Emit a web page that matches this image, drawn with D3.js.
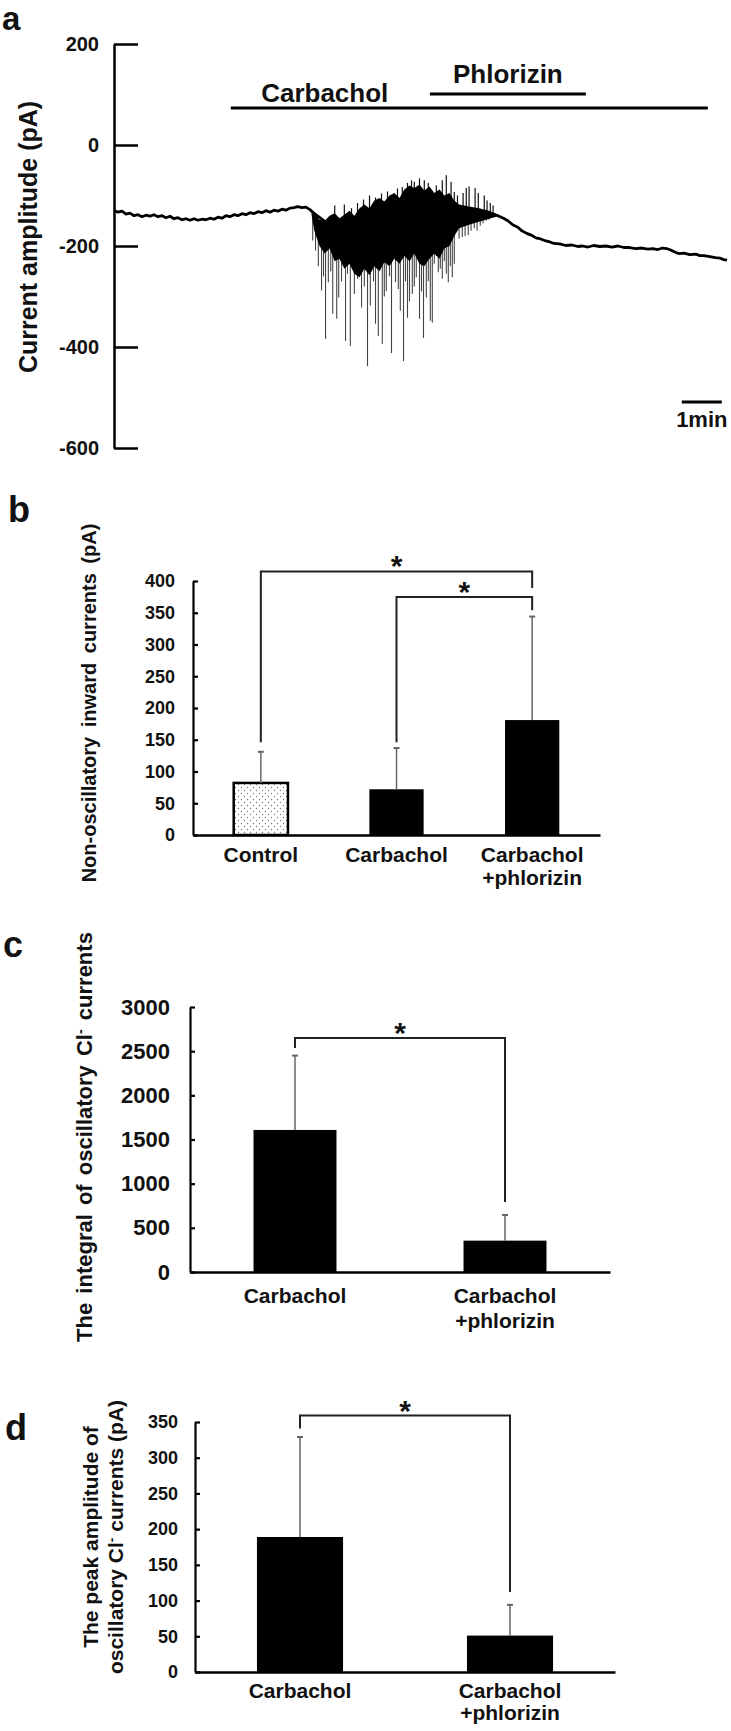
<!DOCTYPE html>
<html>
<head>
<meta charset="utf-8">
<script src="https://cdn.jsdelivr.net/npm/d3@7"></script>
<style>
  body { margin: 0; background: #fff; }
  svg { display: block; font-family: "Liberation Sans", Arial, sans-serif; }
  text { font-weight: bold; fill: #111; }
  .axis path, .axis line { stroke: #000; }
</style>
</head>
<body>
<svg width="731" height="1731"></svg>
<script>
// ---- panel a : current trace (time in min, current in pA)
const traceT = [0, 0.1, 0.2, 0.3, 0.4, 0.5, 0.6, 0.7, 0.8, 0.9, 1.0, 1.1, 1.2, 1.3, 1.4, 1.5, 1.6, 1.7,
  1.8, 1.9, 2.0, 2.1, 2.2, 2.3, 2.4, 2.5, 2.6, 2.7, 2.8, 2.9, 3.0, 3.1, 3.2, 3.3, 3.4, 3.5, 3.6,
  3.7, 3.8, 3.9, 4.0, 4.1, 4.2, 4.3, 4.4, 4.5, 4.6, 4.7, 4.8, 4.9, 5.0,
  5.5, 6.0, 6.5, 7.0, 7.5, 8.0, 8.5, 9.0, 9.5, 9.6, 9.74, 9.85, 9.97, 10.1, 10.2, 10.32, 10.45,
  10.55, 10.67, 10.8, 10.9, 11.0, 11.14, 11.3, 11.45, 11.6, 11.72, 11.85, 12.0, 12.15, 12.3, 12.45,
  12.6, 12.75, 12.89, 13.05, 13.2, 13.35, 13.47, 13.6, 13.72, 13.82, 13.92, 14.05, 14.15, 14.25,
  14.4, 14.55, 14.65, 14.75, 14.9, 15.04, 15.15, 15.25, 15.33];
const traceV = [-130, -133, -131, -137, -135, -140, -138, -142, -139, -141, -138, -142, -140, -144, -141, -146, -144, -148,
  -146, -149, -146, -149, -147, -148, -145, -147, -143, -145, -140, -142, -138, -140, -136, -138, -134, -136, -132,
  -134, -130, -133, -129, -131, -127, -129, -125, -124, -122, -124, -123, -128, -135,
  -165, -175, -170, -160, -150, -150, -140, -135, -138, -140, -145, -150, -158, -163, -170, -175, -179,
  -184, -186, -190, -192, -195, -196, -199, -198, -201, -200, -202, -199, -201, -200, -202,
  -200, -203, -203, -205, -204, -206, -205, -207, -204, -205, -208, -213, -215, -214,
  -217, -216, -219, -219, -221, -223, -224, -227, -228];

// dense oscillation band (upper and lower edge of the black region)
const bandT  = [4.94, 5.01, 5.14, 5.27, 5.39, 5.52, 5.64, 5.76, 5.89, 6.01, 6.14, 6.26, 6.39, 6.51, 6.64,
  6.76, 6.89, 7.01, 7.14, 7.26, 7.39, 7.51, 7.64, 7.76, 7.89, 8.01, 8.14, 8.26, 8.39, 8.51, 8.63,
  8.88, 9.13, 9.38, 9.56];
const bandHi = [-128, -135, -148, -150, -140, -135, -145, -138, -130, -140, -125, -118, -125, -110, -105,
  -112, -100, -95, -105, -88, -80, -85, -78, -90, -82, -95, -88, -100, -95, -110, -118,
  -122, -125, -130, -136];
const bandLo = [-138, -170, -200, -215, -205, -230, -225, -245, -235, -255, -262, -245, -258, -240, -250,
  -232, -240, -225, -235, -220, -230, -215, -235, -240, -225, -215, -225, -205, -200, -180, -165,
  -158, -152, -146, -142];

// downward spikes
const downT = [4.97, 5.04, 5.11, 5.19, 5.24, 5.29, 5.36, 5.42, 5.47, 5.57, 5.62, 5.69, 5.79, 5.84, 5.91,
  6.01, 6.09, 6.19, 6.26, 6.34, 6.41, 6.49, 6.54, 6.61, 6.71, 6.76, 6.81, 6.89, 6.94, 7.04, 7.11,
  7.16, 7.24, 7.29, 7.34, 7.39, 7.46, 7.51, 7.56, 7.64, 7.69, 7.74, 7.81, 7.86, 7.91, 7.96, 8.01,
  8.06, 8.11, 8.16, 8.21, 8.26, 8.31, 8.36, 8.41, 8.46, 8.51, 8.63, 8.71, 8.78, 8.86, 8.93, 9.01,
  9.08, 9.16, 9.23, 9.31, 9.38, 9.46];
const downV = [-189, -209, -240, -288, -260, -384, -272, -250, -334, -344, -302, -270, -388, -255, -398,
  -295, -265, -322, -280, -438, -318, -270, -354, -378, -394, -300, -289, -260, -412, -272, -285,
  -328, -428, -270, -342, -310, -295, -280, -262, -344, -290, -382, -302, -270, -348, -352, -235,
  -220, -252, -245, -265, -230, -255, -272, -240, -262, -235, -185, -182, -180, -178, -170, -165,
  -170, -160, -155, -150, -148, -140];

// upward spikes
const upT = [5.52, 5.76, 5.94, 6.09, 6.24, 6.39, 6.54, 6.69, 6.84, 6.99, 7.09, 7.21, 7.34, 7.44, 7.51,
  7.64, 7.76, 7.86, 7.94, 8.06, 8.21, 8.31, 8.43, 8.51, 8.59, 8.73, 8.81, 8.88, 9.03, 9.11, 9.26,
  9.33, 9.41, 9.48];
const upV = [-120, -118, -125, -115, -108, -100, -104, -96, -92, -98, -86, -83, -75, -70, -73,
  -66, -70, -75, -90, -80, -70, -60, -73, -93, -100, -95, -85, -82, -85, -95, -100,
  -110, -115, -120];

const ticksA = [200, 0, -200, -400, -600];
const carbacholOn = [2.92, 14.85];
const phlorizinOn = [7.9, 11.8];
const scaleBarT = [14.2, 15.2];

// ---- panel b
const catsB = ["Control", "Carbachol", "Carbachol\n+phlorizin"];
const meanB = [82, 72, 181];
const sdB = [49, 65, 163];
const sigB = [[0, 2, 415, 146, 389], [1, 2, 375, 146, 354]];   // from, to, level, left foot, right foot

// ---- panel c
const catsC = ["Carbachol", "Carbachol\n+phlorizin"];
const meanC = [1608, 355];
const sdC = [842, 290];
const sigC = [[0, 1, 2650, 2537, 793]];

// ---- panel d
const catsD = ["Carbachol", "Carbachol\n+phlorizin"];
const meanD = [189, 51];
const sdD = [140, 43];
const sigD = [[0, 1, 359, 341, 112]];

const svg = d3.select("svg");
svg.append("rect").attr("width", 731).attr("height", 1731).attr("fill", "#fff");

const defs = svg.append("defs");
const pat = defs.append("pattern").attr("id", "dots")
    .attr("width", 6).attr("height", 6).attr("patternUnits", "userSpaceOnUse");
pat.append("rect").attr("width", 6).attr("height", 6).attr("fill", "#fff");
pat.append("circle").attr("cx", 1.5).attr("cy", 1.5).attr("r", 0.7).attr("fill", "#777");
pat.append("circle").attr("cx", 4.5).attr("cy", 4.5).attr("r", 0.7).attr("fill", "#777");

function richText(sel, str) {
  // "^x" makes x a superscript
  str.split(/\^(.)/).forEach(function(part, i) {
    if (i % 2 === 1) {
      sel.append("tspan").attr("dy", -7).style("font-size", "0.65em").text(part);
    } else if (part.length) {
      sel.append("tspan").attr("dy", i > 0 ? 7 : 0).text(part);
    }
  });
}

function panelLabel(s, x, y, size) {
  svg.append("text").attr("x", x).attr("y", y).style("font-size", (size || 36) + "px").text(s);
}

// ================= panel a =================
const xA = d3.scaleLinear().domain([0, 15.33]).range([114, 727]);
const yA = d3.scaleLinear().domain([-600, 200]).range([448, 44]);
const gA = svg.append("g");

gA.append("g")
    .attr("class", "axis")
    .attr("transform", "translate(" + xA(0) + ",0)")
    .call(d3.axisLeft(yA).tickValues(ticksA).tickSizeInner(-24).tickSizeOuter(0).tickPadding(15)
      .tickFormat(function(d) { return String(d); }))
    .call(function(g) {
      g.selectAll("path, line").attr("stroke-width", 2.5);
      g.selectAll("text").style("font-size", "20px");
    });

const baseLine = d3.line()
    .x(function(d) { return xA(d[0]); })
    .y(function(d) { return yA(d[1]); });

gA.append("path")
    .datum(d3.zip(traceT, traceV))
    .attr("d", baseLine)
    .attr("fill", "none").attr("stroke", "#000").attr("stroke-width", 2.8)
    .attr("stroke-linejoin", "round");

const band = d3.zip(bandT, bandHi, bandLo);
const nearBand = d3.bisector(function(d) { return d[0]; }).center;
function bandMid(t) {
  const b = band[nearBand(band, t)];
  return (b[1] + b[2]) / 2;
}

gA.append("g").selectAll("line")
  .data(d3.zip(downT, downV))
  .join("line")
    .attr("x1", function(d) { return xA(d[0]); })
    .attr("x2", function(d) { return xA(d[0]); })
    .attr("y1", function(d) { return yA(bandMid(d[0])); })
    .attr("y2", function(d) { return yA(d[1]); })
    .attr("stroke", "#444").attr("stroke-width", 1.1);

gA.append("g").selectAll("line")
  .data(d3.zip(upT, upV))
  .join("line")
    .attr("x1", function(d) { return xA(d[0]); })
    .attr("x2", function(d) { return xA(d[0]); })
    .attr("y1", function(d) { return yA(bandMid(d[0])); })
    .attr("y2", function(d) { return yA(d[1]); })
    .attr("stroke", "#111").attr("stroke-width", 1.2);

gA.append("path")
    .datum(band)
    .attr("d", d3.area()
      .x(function(d) { return xA(d[0]); })
      .y0(function(d) { return yA(d[2]); })
      .y1(function(d) { return yA(d[1]); }))
    .attr("fill", "#000");

// drug application bars
gA.append("line")
    .attr("x1", xA(carbacholOn[0])).attr("x2", xA(carbacholOn[1]))
    .attr("y1", 108).attr("y2", 108)
    .attr("stroke", "#000").attr("stroke-width", 3);
gA.append("text")
    .attr("x", xA(5.27)).attr("y", 102).attr("text-anchor", "middle")
    .style("font-size", "26px").text("Carbachol");
gA.append("line")
    .attr("x1", xA(phlorizinOn[0])).attr("x2", xA(phlorizinOn[1]))
    .attr("y1", 94).attr("y2", 94)
    .attr("stroke", "#000").attr("stroke-width", 3);
gA.append("text")
    .attr("x", xA((phlorizinOn[0] + phlorizinOn[1]) / 2)).attr("y", 83).attr("text-anchor", "middle")
    .style("font-size", "26px").text("Phlorizin");

// scale bar
gA.append("line")
    .attr("x1", xA(scaleBarT[0])).attr("x2", xA(scaleBarT[1]))
    .attr("y1", 402).attr("y2", 402)
    .attr("stroke", "#000").attr("stroke-width", 3);
gA.append("text")
    .attr("x", xA((scaleBarT[0] + scaleBarT[1]) / 2)).attr("y", 427).attr("text-anchor", "middle")
    .style("font-size", "22px").text("1min");

gA.append("text")
    .attr("transform", "translate(37,237) rotate(-90)")
    .attr("text-anchor", "middle")
    .style("font-size", "25px")
    .text("Current amplitude (pA)");

panelLabel("a", 2, 30, 33);

// ================= bar panels =================
function barPanel(p) {
  const x = d3.scaleBand().domain(p.cats).range(p.xRange)
      .paddingInner(p.pad).paddingOuter(p.pad / 2);
  const y = d3.scaleLinear().domain([0, p.yMax]).range(p.yRange);
  const g = svg.append("g");
  const cx = function(i) { return x(p.cats[i]) + x.bandwidth() / 2; };

  // bars
  g.append("g").selectAll("rect")
    .data(p.means)
    .join("rect")
      .attr("x", function(d, i) { return x(p.cats[i]); })
      .attr("y", function(d) { return y(d); })
      .attr("width", x.bandwidth())
      .attr("height", function(d) { return y(0) - y(d); })
      .attr("fill", function(d, i) { return (p.dotted && i === 0) ? "url(#dots)" : "#000"; })
      .attr("stroke", "#000")
      .attr("stroke-width", function(d, i) { return (p.dotted && i === 0) ? 2.5 : 0; });

  // error bars (upper only)
  const eb = g.append("g").selectAll("g")
    .data(p.means)
    .join("g");
  eb.append("line")
      .attr("x1", function(d, i) { return cx(i); })
      .attr("x2", function(d, i) { return cx(i); })
      .attr("y1", function(d) { return y(d); })
      .attr("y2", function(d, i) { return y(d + p.sds[i]); })
      .attr("stroke", "#666").attr("stroke-width", 1.5);
  eb.append("line")
      .attr("x1", function(d, i) { return cx(i) - 3; })
      .attr("x2", function(d, i) { return cx(i) + 3; })
      .attr("y1", function(d, i) { return y(d + p.sds[i]); })
      .attr("y2", function(d, i) { return y(d + p.sds[i]); })
      .attr("stroke", "#666").attr("stroke-width", 2);

  // axes
  g.append("g")
      .attr("class", "axis")
      .attr("transform", "translate(" + p.xRange[0] + ",0)")
      .call(d3.axisLeft(y).tickValues(d3.range(0, p.yMax + 1, p.step))
        .tickSizeInner(-5).tickSizeOuter(0).tickPadding(p.tickPad)
        .tickFormat(function(d) { return String(d); }))
      .call(function(a) {
        a.selectAll("path, line").attr("stroke-width", 2.2);
        a.selectAll("text").style("font-size", p.tickFont + "px");
      });
  g.append("g")
      .attr("class", "axis")
      .attr("transform", "translate(0," + y(0) + ")")
      .call(d3.axisBottom(x).tickSize(0).tickFormat(""))
      .call(function(a) { a.select("path").attr("stroke-width", 2.5); });

  // category labels
  p.cats.forEach(function(c, i) {
    const t = g.append("text")
        .attr("x", cx(i)).attr("y", y(0) + p.labOff)
        .attr("text-anchor", "middle")
        .style("font-size", "21px");
    c.split("\n").forEach(function(line, j) {
      t.append("tspan").attr("x", cx(i)).attr("dy", j === 0 ? 0 : p.labGap).text(line);
    });
  });

  // significance brackets
  p.sig.forEach(function(s) {
    const x1 = cx(s[0]), x2 = cx(s[1]);
    g.append("path")
        .attr("d", "M" + x1 + "," + y(s[3]) + "V" + y(s[2]) + "H" + x2 + "V" + y(s[4]))
        .attr("fill", "none").attr("stroke", "#222").attr("stroke-width", 2);
    g.append("text")
        .attr("x", (x1 + x2) / 2).attr("y", y(s[2]) - 12 + 17)
        .attr("text-anchor", "middle")
        .style("font-size", "30px").text("*");
  });

  // y title
  p.title.forEach(function(line, j) {
    const t = g.append("text")
        .attr("transform", "translate(" + p.titleX[j] + "," + p.titleY + ") rotate(-90)")
        .attr("text-anchor", "middle")
        .style("font-size", p.titleFont + "px")
        .style("word-spacing", p.wordSp + "px");
    richText(t, line);
  });
}

barPanel({
  cats: catsB, means: meanB, sds: sdB, sig: sigB, dotted: true,
  xRange: [193, 600], yRange: [835, 581], yMax: 400, step: 50, pad: 0.6,
  tickPad: 18, tickFont: 18, labOff: 27, labGap: 23,
  title: ["Non-oscillatory inward currents (pA)"], titleX: [96], titleY: 703, titleFont: 20, wordSp: 4
});
panelLabel("b", 8, 522);

barPanel({
  cats: catsC, means: meanC, sds: sdC, sig: sigC, dotted: false,
  xRange: [190, 610], yRange: [1272, 1007], yMax: 3000, step: 500, pad: 0.605,
  tickPad: 20, tickFont: 22, labOff: 31, labGap: 25,
  title: ["The integral of oscillatory Cl^- currents"], titleX: [92], titleY: 1137, titleFont: 22, wordSp: 3
});
panelLabel("c", 3, 957);

barPanel({
  cats: catsD, means: meanD, sds: sdD, sig: sigD, dotted: false,
  xRange: [195, 615], yRange: [1672, 1422], yMax: 350, step: 50, pad: 0.59,
  tickPad: 17, tickFont: 18, labOff: 26, labGap: 22,
  title: ["The peak amplitude of", "oscillatory Cl^- currents (pA)"], titleX: [98, 123], titleY: 1537,
  titleFont: 21, wordSp: 0
});
panelLabel("d", 5, 1440);
</script>
</body>
</html>
